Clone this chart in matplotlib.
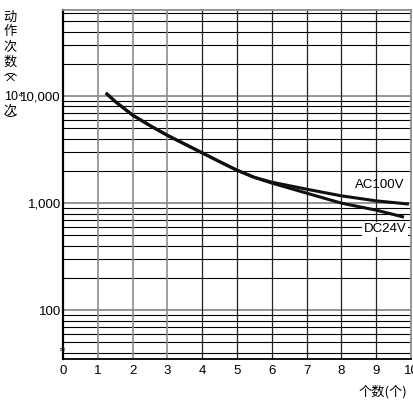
import numpy as np
import matplotlib
matplotlib.use("Agg")
import matplotlib.pyplot as plt

plt.rcParams['font.family'] = ['Liberation Sans', 'Noto Sans CJK SC', 'DejaVu Sans']

# data
ac_x = [1.23, 1.5, 2, 2.5, 3, 3.5, 4, 4.5, 5, 5.5, 6, 7, 8, 9, 9.94]
ac_y = [10700, 8900, 6640, 5300, 4300, 3560, 2950, 2440, 2030, 1740, 1570, 1350, 1170, 1050, 980]
dc_x = [1.23, 1.5, 2, 2.5, 3, 3.5, 4, 4.5, 5, 5.5, 6, 7, 8, 9, 9.8]
dc_y = [10700, 8900, 6640, 5300, 4300, 3560, 2950, 2440, 2030, 1740, 1540, 1240, 1000, 860, 740]

x_ticks = list(range(0, 11))
y_ticks = [100, 1000, 10000]
y_tick_labels = ['100', '1,000', '10,000']
ylabel_chars = ['动', '作', '次', '数', '︵', '×', '次', '︶']
ylabel_pos = [17, 32, 48, 62, 71, 79, 112, 122]

fig = plt.figure(figsize=(4.13, 4.01), dpi=100)
ax = fig.add_axes([63 / 413, 1 - 359 / 401, 348 / 413, 349 / 401])
ax.set_yscale('log')
ax.set_xlim(0, 10)
ax.set_ylim(35, 63700)

# grid: decades grey, sub-decade lines black
gray = '#8c8c8c'
for dec in [10, 100, 1000, 10000]:
    for m in range(1, 10):
        v = dec * m
        if v < 35 or v > 63700:
            continue
        if m == 1:
            ax.axhline(v, color=gray, lw=1.3, zorder=1)
        else:
            ax.axhline(v, color='black', lw=0.8, zorder=1)
for xv in range(1, 10):
    c = gray if xv <= 3 else '#222222'
    ax.axvline(xv, color=c, lw=1.2 if xv <= 3 else 0.9, zorder=1)

ax.plot(ac_x, ac_y, color='#111111', lw=2.2, solid_capstyle='butt', zorder=3)
ax.plot(dc_x, dc_y, color='#111111', lw=2.2, solid_capstyle='butt', zorder=3)

ax.text(9.1, 1470, 'AC100V', fontsize=9.5, ha='center', va='center', zorder=4)
ax.text(9.25, 570, 'DC24V', fontsize=9.5, ha='center', va='center', zorder=4,
        bbox=dict(facecolor='white', edgecolor='none', pad=1.0))

ax.set_xticks(x_ticks)
ax.set_xticklabels([str(v) for v in x_ticks], fontsize=9.5)
ax.set_yticks(y_ticks)
ax.set_yticklabels(y_tick_labels, fontsize=9.5)
ax.yaxis.set_minor_locator(matplotlib.ticker.NullLocator())
ax.tick_params(axis='y', length=0, pad=1.5)
ax.tick_params(axis='x', length=0, pad=4)

for side in ['top', 'right']:
    ax.spines[side].set_color(gray)
    ax.spines[side].set_linewidth(1.3)
ax.spines['left'].set_linewidth(1.6)
ax.spines['bottom'].set_linewidth(1.3)

# break mark on the y axis
ax.text(-0.03, 44, '≈', fontsize=6, ha='center', va='center',
        family=['DejaVu Sans'], clip_on=False)

# stacked vertical y label
for ch, yp in zip(ylabel_chars, ylabel_pos):
    fig.text(10 / 413, 1 - yp / 401, ch, fontsize=9.5, ha='center', va='center',
             family=['Noto Sans CJK SC', 'DejaVu Sans'])
fig.text(4 / 413, 1 - 97 / 401, '10⁴', fontsize=9, ha='left', va='center',
         family=['Liberation Sans', 'DejaVu Sans'])

fig.text(383 / 413, 1 - 392 / 401, '个数(个)', fontsize=9.5,
         ha='center', va='center', family=['Noto Sans CJK SC', 'DejaVu Sans'])

fig.savefig('out.png', dpi=100)
